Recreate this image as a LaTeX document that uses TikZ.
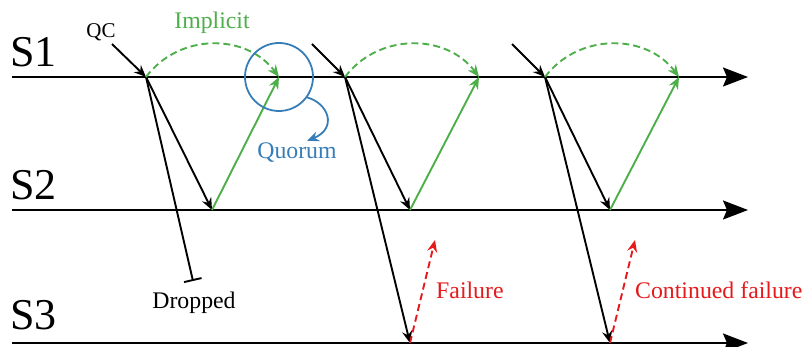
\documentclass[tikz,border=0pt]{standalone}
\usepackage{fontspec}
\setmainfont{Liberation Serif}
\usetikzlibrary{arrows.meta}
\definecolor{cgreen}{HTML}{4DAF4A}
\definecolor{cblue}{HTML}{377EB8}
\definecolor{cred}{HTML}{E41A1C}
\begin{document}
\begin{tikzpicture}[x=1pt,y=-1pt,
  axis/.style={line width=2pt,-{Stealth[length=25pt,width=19pt,inset=4pt]}},
  msg/.style={line width=1.9pt,-{Stealth[length=12pt,width=10pt,inset=4pt]}},
  gmsg/.style={cgreen,line width=1.9pt,-{Stealth[length=12pt,width=10pt,inset=4pt]}},
  gdash/.style={gmsg,dash pattern=on 7pt off 4pt},
  rdash/.style={cred,line width=1.9pt,dash pattern=on 7pt off 4pt,-{Stealth[length=12pt,width=10pt,inset=4pt]}},
  lbl/.style={font=\fontsize{23.8}{24}\selectfont,inner sep=0pt},
  slbl/.style={font=\fontsize{44}{44}\selectfont,inner sep=0pt,anchor=base west}]
\useasboundingbox (0,0) rectangle (804,347);
% axes
\coordinate (s1a) at (12,77);  \coordinate (s1b) at (748,77);
\coordinate (s2a) at (12,210); \coordinate (s2b) at (748,210);
\coordinate (s3a) at (12,343); \coordinate (s3b) at (748,343);
\draw[axis] (s1a) -- (s1b);
\draw[axis] (s2a) -- (s2b);
\draw[axis] (s3a) -- (s3b);
\node[slbl] (S1) at (10,67) {S1};
\node[slbl] (S2) at (10,200) {S2};
\node[slbl] (S3) at (10,330) {S3};
% group 1
\coordinate (q1) at (112,44); \coordinate (p1) at (146,77);
\coordinate (r1) at (212,210); \coordinate (t1) at (279,77);
\coordinate (d1) at (193,281);
\draw[msg] (q1) -- (p1);
\draw[msg] (p1) -- (r1);
\draw[line width=1.9pt,-{Bar[width=18pt,line width=1.9pt]}] (p1) -- (d1);
\draw[gmsg] (r1) -- (t1);
\draw[gdash] (p1) .. controls +(33,-44) and +(-33,-44) .. (t1);
% group 2
\coordinate (q2) at (312,44); \coordinate (p2) at (345,77);
\coordinate (r2) at (410,210); \coordinate (t2) at (479,77);
\coordinate (u2) at (410,343); \coordinate (f2) at (435,240);
\draw[msg] (q2) -- (p2);
\draw[msg] (p2) -- (r2);
\draw[msg] (p2) -- (u2);
\draw[gmsg] (r2) -- (t2);
\draw[gdash] (p2) .. controls +(33,-44) and +(-33,-44) .. (t2);
\draw[rdash] (u2) -- (f2);
% group 3
\coordinate (q3) at (512,44); \coordinate (p3) at (545,77);
\coordinate (r3) at (610,210); \coordinate (t3) at (679,77);
\coordinate (u3) at (610,343); \coordinate (f3) at (635,240);
\draw[msg] (q3) -- (p3);
\draw[msg] (p3) -- (r3);
\draw[msg] (p3) -- (u3);
\draw[gmsg] (r3) -- (t3);
\draw[gdash] (p3) .. controls +(33,-44) and +(-33,-44) .. (t3);
\draw[rdash] (u3) -- (f3);
% quorum
\node[draw=cblue,circle,minimum size=68pt,inner sep=0pt,line width=1.8pt] (qc) at (t1) {};
\coordinate (qa) at (307,141);
\draw[cblue,line width=1.8pt,-{Stealth[length=12pt,width=10pt,inset=4pt]}]
  (qc.-36) .. controls (328,103) and (338,128) .. (qa);
% labels
\node[lbl,anchor=base,font=\fontsize{21}{21}\selectfont] (lqc) at (101,38) {QC};
\node[lbl,anchor=base,text=cgreen] (limp) at (212,29) {Implicit};
\node[lbl,anchor=base,text=cblue] (lquo) at (297,159) {Quorum};
\node[lbl,anchor=base] (ldrop) at (194,309) {Dropped};
\node[lbl,anchor=base west,text=cred] (lfail) at (436,299) {Failure};
\node[lbl,anchor=base west,text=cred] (lcont) at (635,299) {Continued failure};
\end{tikzpicture}
\end{document}
